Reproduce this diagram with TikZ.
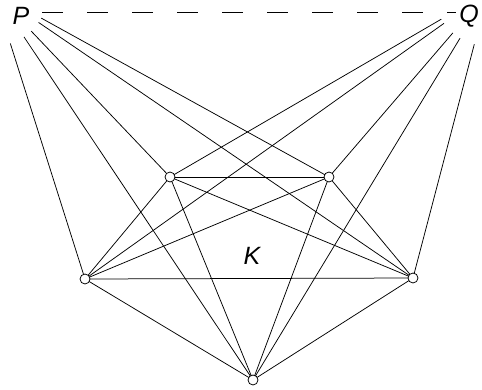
\documentclass[tikz,border=0pt]{standalone}
\usepackage{fontspec}
\setmainfont{Liberation Sans}
\begin{document}
\begin{tikzpicture}[x=1pt,y=-1pt,line width=0.75pt,
    vert/.style={circle,draw,fill=white,inner sep=0pt,minimum size=10pt},
    lbl/.style={inner sep=1pt,font=\fontsize{25}{29}\selectfont\itshape}]
    \useasboundingbox (0,0) rectangle (482,389);
    \node[lbl] (P) at (21,16) {P};
    \node[lbl] (Q) at (469,16) {Q};
    % points the fans come from
    \coordinate (p) at (-6,-8);
    \coordinate (q) at (488,-8);
    \coordinate (pd) at (42,12);
    \coordinate (qd) at (456,12);
    \coordinate (a) at (170,177);
    \coordinate (b) at (329,177);
    \coordinate (c) at (85,279);
    \coordinate (d) at (413,278);
    \coordinate (e) at (253,380);
    \draw[dash pattern=on 21pt off 24pt] (pd) -- (qd);
    \foreach \v in {a,b,c,d,e} {
      \draw[shorten <=54pt] (p) -- (\v);
      \draw[shorten <=54pt] (q) -- (\v);
    }
    \foreach \u/\v in {a/b,a/c,a/d,a/e,b/c,b/d,b/e,c/d,c/e,d/e}
      \draw (\u) -- (\v);
    \foreach \v in {a,b,c,d,e}
      \node[vert] at (\v) {};
    \node[lbl] (K) at (252,256) {K};
\end{tikzpicture}
\end{document}
